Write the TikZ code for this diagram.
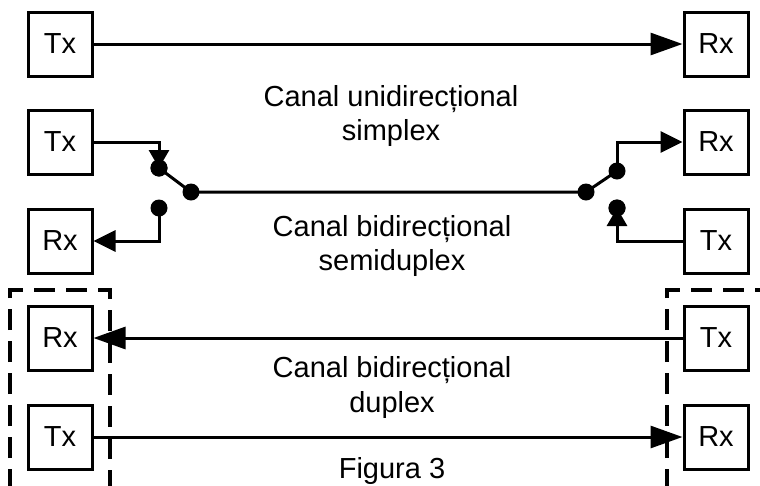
\documentclass[tikz,border=0pt]{standalone}
\usepackage{fontspec}
\setmainfont{Liberation Sans}
\usetikzlibrary{arrows.meta}
\tikzset{
  box/.style={draw, line width=3pt, minimum size=64pt, inner sep=0pt, font=\fontsize{29}{34}\selectfont},
  lbl/.style={anchor=base, inner sep=0pt, font=\fontsize{29}{34}\selectfont},
  wire/.style={line width=3pt},
  bigarrow/.style={wire, -{Triangle[length=32pt,width=22pt]}},
  smallarrow/.style={wire, -{Triangle[length=22pt,width=21pt]}},
  dotarrow/.style={wire, -{Triangle[length=18pt,width=20pt]}},
  dot/.style={circle, fill, inner sep=0pt, minimum size=17pt},
  dashbox/.style={line width=3.2pt, dash pattern=on 21pt off 11pt}
}
\begin{document}
\begin{tikzpicture}[x=1pt,y=-1pt]
\useasboundingbox (0,0) rectangle (760,485);
\begin{scope}
\clip (0,0) rectangle (760,485);
% dashed enclosures
\draw[dashbox] (10,490) -- (10,290) -- (110,290) -- (110,490);
\draw[dashbox] (667,490) -- (667,290) -- (765,290);
\end{scope}

% row 1: simplex
\node[box] (tx1) at (60,44) {Tx};
\node[box] (rx1) at (716,44) {Rx};
\draw[bigarrow] (tx1.east) -- (rx1.west);
\node[lbl] (t1a) at (391,106) {Canal unidirecțional};
\node[lbl] (t1b) at (391,140) {simplex};

% row 2: semiduplex
\node[box] (tx2) at (60,142) {Tx};
\node[box] (rx2) at (60,241) {Rx};
\node[box] (rx3) at (716,142) {Rx};
\node[box] (tx3) at (716,241) {Tx};
\coordinate (ca) at (159,142);
\coordinate (cc) at (159,241);
\coordinate (ce) at (617,142);
\coordinate (cf) at (617,241);
\node[dot] (A) at (159,168) {};
\node[dot] (B) at (191,192) {};
\node[dot] (C) at (159,208) {};
\node[dot] (D) at (586,192) {};
\node[dot] (E) at (617,171) {};
\node[dot] (F) at (617,208) {};
\draw[dotarrow] (tx2.east) -- (ca) -- (A.center);
\draw[wire] (A.center) -- (B.center) -- (D.center) -- (E.center);
\draw[smallarrow] (E.center) -- (ce) -- (rx3.west);
\draw[smallarrow] (C.center) -- (cc) -- (rx2.east);
\draw[dotarrow] (tx3.west) -- (cf) -- (F.center);
\node[dot] at (A) {};
\node[dot] at (F) {};
\node[lbl] (t2a) at (392,236) {Canal bidirecțional};
\node[lbl] (t2b) at (392,270) {semiduplex};

% row 3/4: duplex
\node[box] (rx4) at (60,338) {Rx};
\node[box] (tx4) at (60,437) {Tx};
\node[box] (tx5) at (716,338) {Tx};
\node[box] (rx5) at (716,437) {Rx};
\draw[bigarrow] (tx5.west) -- (rx4.east);
\draw[bigarrow] (tx4.east) -- (rx5.west);
\node[lbl] (t3a) at (392,377) {Canal bidirecțional};
\node[lbl] (t3b) at (392,412) {duplex};
\node[lbl] (fig) at (392,478) {Figura 3};
\end{tikzpicture}
\end{document}
